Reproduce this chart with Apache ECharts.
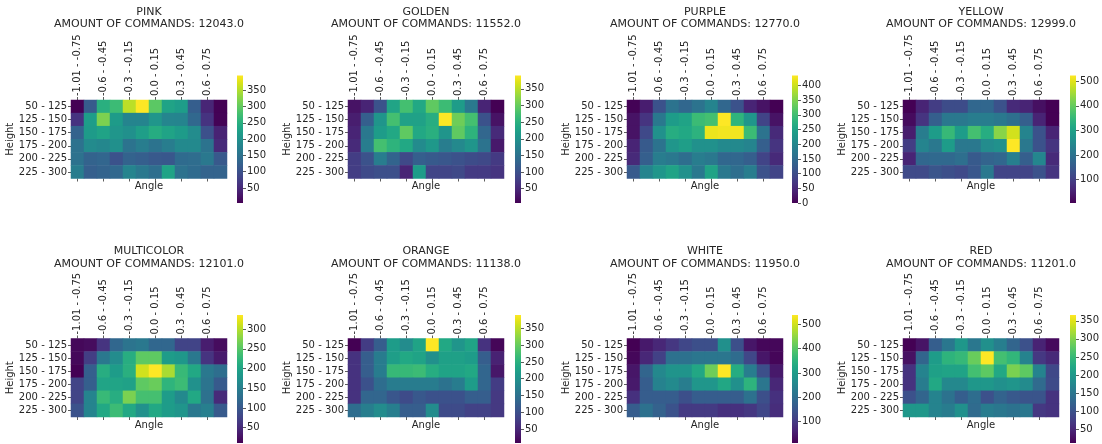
<!DOCTYPE html>
<html>
<head>
<meta charset="utf-8">
<script src="https://cdn.jsdelivr.net/npm/echarts@6/dist/echarts.min.js"></script>
<style>
  html, body { margin: 0; padding: 0; background: #ffffff; }
  #chart { width: 1102px; height: 444px; }
</style>
</head>
<body>
<div id="chart"></div>
<script>
// Bins used on both axes of every heatmap
const angleBins = ['-1.01 - -0.75', '-0.75 - -0.6', '-0.6 - -0.45', '-0.45 - -0.3', '-0.3 - -0.15', '-0.15 - 0.0',
                   '0.0 - 0.15', '0.15 - 0.3', '0.3 - 0.45', '0.45 - 0.6', '0.6 - 0.75', '0.75 - 1.01'];
const heightBins = ['50 - 125', '125 - 150', '150 - 175', '175 - 200', '200 - 225', '225 - 300'];

const colorNames = ['PINK', 'GOLDEN', 'PURPLE', 'YELLOW', 'MULTICOLOR', 'ORANGE', 'WHITE', 'RED'];
const commandTotals = [12043.0, 11552.0, 12770.0, 12999.0, 12101.0, 11138.0, 11950.0, 11201.0];

// Command counts per cell: one row per height bin, one column per angle bin
const pinkCounts = [
  [4, 115, 250, 270, 355, 395, 295, 230, 220, 120, 45, 5],
  [62, 220, 318, 218, 180, 180, 208, 182, 180, 135, 62, 6],
  [128, 218, 230, 208, 198, 222, 245, 230, 218, 192, 100, 42],
  [150, 190, 185, 198, 152, 168, 152, 168, 188, 188, 152, 50],
  [150, 128, 132, 102, 128, 122, 112, 110, 140, 142, 160, 112],
  [168, 122, 128, 135, 180, 160, 144, 230, 150, 140, 128, 128]
];
const goldenCounts = [
  [26, 45, 103, 230, 275, 237, 295, 268, 218, 160, 45, 7],
  [38, 122, 206, 275, 225, 225, 245, 390, 305, 275, 103, 26],
  [45, 160, 218, 237, 295, 237, 248, 206, 295, 255, 133, 52],
  [52, 168, 275, 255, 237, 190, 210, 168, 186, 206, 152, 33],
  [75, 103, 168, 130, 90, 122, 115, 110, 103, 95, 90, 72],
  [75, 92, 98, 98, 45, 218, 85, 85, 90, 72, 72, 65]
];
const purpleCounts = [
  [2, 35, 108, 165, 143, 165, 195, 143, 108, 43, 22, 0],
  [22, 65, 174, 239, 252, 295, 304, 434, 282, 226, 87, 22],
  [22, 95, 217, 269, 260, 278, 421, 425, 425, 295, 165, 52],
  [43, 122, 165, 226, 243, 217, 217, 204, 204, 195, 130, 65],
  [52, 130, 182, 174, 156, 182, 174, 143, 143, 130, 87, 52],
  [122, 195, 226, 252, 217, 174, 252, 174, 156, 182, 108, 87]
];
const yellowCounts = [
  [5, 57, 98, 124, 124, 176, 176, 135, 67, 57, 26, 5],
  [20, 83, 160, 212, 212, 222, 222, 212, 192, 160, 57, 5],
  [46, 222, 290, 352, 290, 368, 326, 430, 487, 238, 135, 57],
  [98, 238, 212, 290, 212, 212, 254, 264, 523, 212, 135, 83],
  [57, 176, 181, 181, 192, 150, 170, 176, 228, 160, 243, 67],
  [119, 119, 140, 129, 119, 145, 212, 109, 109, 109, 135, 83]
];
const multicolorCounts = [
  [17, 21, 60, 118, 135, 141, 118, 118, 76, 76, 37, 21],
  [17, 70, 141, 167, 213, 255, 255, 190, 183, 141, 60, 34],
  [11, 108, 213, 190, 216, 313, 336, 294, 229, 206, 141, 128],
  [76, 108, 200, 200, 196, 255, 261, 222, 232, 174, 135, 102],
  [76, 157, 229, 213, 271, 239, 239, 190, 164, 206, 131, 50],
  [92, 157, 206, 232, 206, 174, 206, 190, 180, 141, 151, 102]
];
const orangeCounts = [
  [8, 75, 121, 218, 191, 229, 390, 237, 206, 229, 63, 13],
  [63, 121, 167, 222, 237, 229, 198, 225, 225, 218, 121, 44],
  [63, 121, 167, 264, 264, 268, 245, 229, 229, 237, 133, 32],
  [63, 102, 144, 167, 167, 167, 167, 152, 167, 218, 133, 75],
  [63, 133, 133, 109, 94, 113, 102, 102, 102, 121, 121, 71],
  [144, 171, 191, 171, 121, 121, 191, 94, 94, 82, 82, 71]
];
const whiteCounts = [
  [12, 48, 69, 96, 122, 138, 138, 272, 138, 43, 21, 21],
  [21, 69, 112, 208, 208, 218, 218, 218, 197, 122, 43, 20],
  [43, 181, 256, 283, 283, 325, 421, 538, 336, 234, 138, 48],
  [48, 165, 245, 261, 234, 288, 288, 325, 272, 352, 218, 69],
  [85, 165, 165, 165, 138, 165, 165, 165, 165, 208, 138, 85],
  [165, 208, 176, 143, 101, 101, 101, 85, 85, 96, 122, 80]
];
const redCounts = [
  [12, 31, 117, 152, 199, 152, 188, 163, 127, 99, 46, 21],
  [28, 127, 206, 241, 248, 284, 366, 259, 245, 170, 70, 53],
  [63, 170, 213, 217, 217, 259, 277, 224, 295, 277, 170, 88],
  [63, 160, 224, 177, 177, 199, 199, 188, 195, 181, 134, 92],
  [99, 127, 170, 145, 117, 138, 99, 124, 110, 103, 103, 63],
  [199, 199, 170, 160, 188, 134, 160, 152, 145, 152, 70, 63]
];

// Colorbar tick labels for each panel
const pinkTicks = [50, 100, 150, 200, 250, 300, 350];
const goldenTicks = [50, 100, 150, 200, 250, 300, 350];
const purpleTicks = [0, 50, 100, 150, 200, 250, 300, 350, 400];
const yellowTicks = [100, 200, 300, 400, 500];
const multicolorTicks = [50, 100, 150, 200, 250, 300];
const orangeTicks = [50, 100, 150, 200, 250, 300, 350];
const whiteTicks = [100, 200, 300, 400, 500];
const redTicks = [50, 100, 150, 200, 250, 300, 350];

const panelCounts = [pinkCounts, goldenCounts, purpleCounts, yellowCounts,
                     multicolorCounts, orangeCounts, whiteCounts, redCounts];
const panelTicks = [pinkTicks, goldenTicks, purpleTicks, yellowTicks,
                    multicolorTicks, orangeTicks, whiteTicks, redTicks];

// viridis colour ramp, low to high
const viridis = ['#440154', '#471365', '#482475', '#463480', '#414487', '#3b528b', '#355f8d',
                 '#2f6c8e', '#2a788e', '#25848e', '#21918c', '#1e9c89', '#22a884', '#2fb47c',
                 '#44bf70', '#5ec962', '#7ad151', '#9bd93c', '#bddf26', '#dfe318', '#fde725'];

// Layout
const FONT = 'DejaVu Sans';
const TEXT = '#262626';
const hmLeft = [71, 348, 627, 903];
const hmWidth = 156;
const hmTop = [100, 338.5];
const hmHeight = 78.5;
const cbLeft = [237, 515, 792, 1070];
const cbWidth = 6;
const cbTop = [75.5, 315];
const cbHeight = [127.5, 128];
const titleY = [[12.2, 24.5], [251, 264]];

const grid = [], xAxis = [], yAxis = [], series = [], visualMap = [], graphic = [];

panelCounts.forEach((counts, i) => {
  const col = i % 4, row = Math.floor(i / 4);
  const cells = [];
  counts.forEach((r, y) => r.forEach((v, x) => cells.push([x, y, v])));
  const flat = counts.flat();
  const vmin = Math.min(...flat), vmax = Math.max(...flat);

  // heatmap grid
  grid.push({ left: hmLeft[col], top: hmTop[row], width: hmWidth, height: hmHeight,
              outerBoundsMode: 'none', containLabel: false });
  // colorbar grid
  grid.push({ left: cbLeft[col], top: cbTop[row], width: cbWidth, height: cbHeight[row],
              outerBoundsMode: 'none', containLabel: false });

  const tickStyle = { show: true, alignWithLabel: true, interval: 1, length: 3,
                      lineStyle: { color: '#333', width: 0.8 } };
  xAxis.push({
    gridIndex: 2 * i, type: 'category', data: angleBins, position: 'top',
    axisLine: { show: false }, splitLine: { show: false },
    axisTick: tickStyle,
    axisLabel: { interval: 1, rotate: -90, margin: 4,
                 fontSize: 10, fontFamily: FONT, color: TEXT }
  });
  xAxis.push({
    gridIndex: 2 * i, type: 'category', data: angleBins, position: 'bottom',
    axisLine: { show: false }, splitLine: { show: false },
    axisTick: tickStyle, axisLabel: { show: false },
    name: 'Angle', nameLocation: 'middle', nameGap: 3,
    nameTextStyle: { fontSize: 10, fontFamily: FONT, color: TEXT, verticalAlign: 'top' }
  });
  xAxis.push({ gridIndex: 2 * i + 1, type: 'category', data: ['bar'], show: false });

  yAxis.push({
    gridIndex: 2 * i, type: 'category', data: heightBins, inverse: true,
    axisLine: { show: false }, splitLine: { show: false },
    axisTick: { show: true, alignWithLabel: true, length: 3, lineStyle: { color: '#333', width: 0.8 } },
    axisLabel: { margin: 4, fontSize: 10, fontFamily: FONT, color: TEXT },
    name: 'Height', nameLocation: 'middle', nameRotate: 90, nameGap: 47,
    nameTextStyle: { fontSize: 10, fontFamily: FONT, color: TEXT }
  });
  yAxis.push({
    gridIndex: 2 * i + 1, type: 'value', position: 'right', min: vmin, max: vmax,
    axisLine: { show: false }, splitLine: { show: false },
    axisTick: { show: true, length: 3, customValues: panelTicks[i], lineStyle: { color: '#333', width: 0.8 } },
    axisLabel: { margin: 4, fontSize: 10, fontFamily: FONT, color: TEXT, customValues: panelTicks[i] }
  });

  series.push({
    type: 'heatmap', xAxisIndex: 3 * i, yAxisIndex: 2 * i, data: cells,
    itemStyle: { borderWidth: 0 }, emphasis: { disabled: true }, progressive: 0
  });
  // colorbar: gradient rectangle spanning [vmin, vmax] on its own value axis
  series.push({
    type: 'custom', xAxisIndex: 3 * i + 2, yAxisIndex: 2 * i + 1,
    encode: { x: 0, y: [1, 2] }, data: [[0, vmin, vmax]], silent: true,
    renderItem: (params, api) => {
      const hi = api.coord([0, api.value(2)]);
      const lo = api.coord([0, api.value(1)]);
      const cs = params.coordSys;
      const stops = viridis.map((c, k) => ({ offset: 1 - k / (viridis.length - 1), color: c })).reverse();
      return {
        type: 'rect',
        shape: { x: cs.x, y: hi[1], width: cs.width, height: lo[1] - hi[1] },
        style: { fill: new echarts.graphic.LinearGradient(0, 0, 0, 1, stops) }
      };
    }
  });

  visualMap.push({
    type: 'continuous', show: false, seriesIndex: 2 * i, dimension: 2,
    min: vmin, max: vmax, inRange: { color: viridis }
  });

  const cx = hmLeft[col] + hmWidth / 2;
  graphic.push({
    type: 'text', x: cx, y: titleY[row][0],
    style: { text: colorNames[i], fontSize: 11, fontFamily: FONT, fill: TEXT,
             align: 'center', verticalAlign: 'middle', textAlign: 'center', textVerticalAlign: 'middle' }
  });
  graphic.push({
    type: 'text', x: cx, y: titleY[row][1],
    style: { text: 'AMOUNT OF COMMANDS: ' + commandTotals[i].toFixed(1), fontSize: 11, fontFamily: FONT, fill: TEXT,
             align: 'center', verticalAlign: 'middle', textAlign: 'center', textVerticalAlign: 'middle' }
  });
});

const chart = echarts.init(document.getElementById('chart'), null, { renderer: 'canvas' });
chart.setOption({
  backgroundColor: '#ffffff',
  animation: false,
  textStyle: { fontFamily: FONT },
  grid, xAxis, yAxis, series, visualMap, graphic
});
</script>
</body>
</html>
